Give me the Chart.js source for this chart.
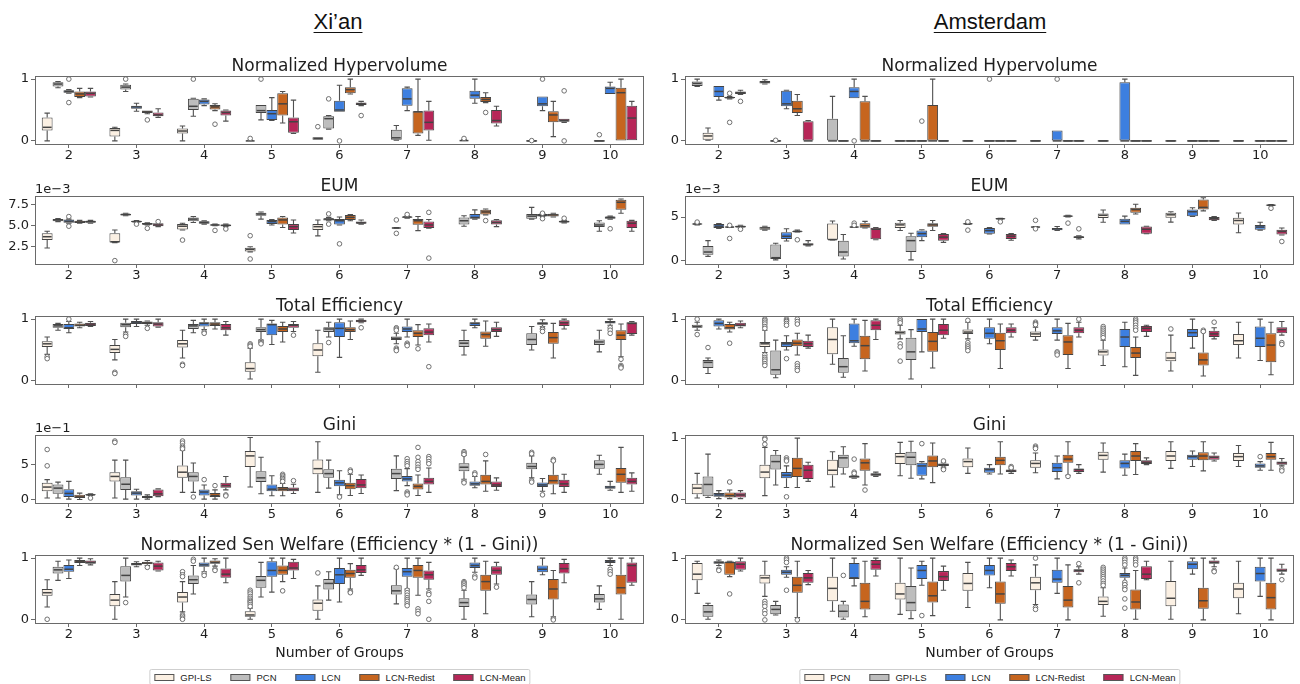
<!DOCTYPE html>
<html><head><meta charset="utf-8">
<script src="https://cdn.jsdelivr.net/npm/chart.js@4.4.1/dist/chart.umd.min.js"></script>
<style>
body{margin:0;background:#fff;width:1300px;height:684px;position:relative;overflow:hidden;font-family:"DejaVu Sans",sans-serif;}
canvas{position:absolute;}
.city{position:absolute;top:9px;font:22px "Liberation Sans",Arial,sans-serif;text-decoration:underline;text-underline-offset:3px;text-decoration-thickness:1px;color:#111;transform:translateX(-50%);white-space:nowrap;}
.legend{position:absolute;top:669px;height:14px;border:1px solid #cfcfcf;border-radius:2px;display:flex;align-items:center;gap:19px;padding:0 4px;font:9.5px "Liberation Sans",Arial,sans-serif;color:#222;transform:translateX(-50%);white-space:nowrap;background:#fff;}
.item{display:flex;align-items:center;gap:6px}
.patch{width:18px;height:5px;border:1px solid #555;}
</style></head>
<body>
<div class="city" style="left:338px">Xi’an</div>
<div class="city" style="left:990px">Amsterdam</div>
<div class="legend" id="legL" style="left:340px"></div>
<div class="legend" id="legR" style="left:990px"></div>
<script>
// ---------- categories, labels ----------
const GROUPS = ['2','3','4','5','6','7','8','9','10'];
const XIAN_METHODS = ['GPI-LS','PCN','LCN','LCN-Redist','LCN-Mean'];
const AMS_METHODS = ['PCN','GPI-LS','LCN','LCN-Redist','LCN-Mean'];
const COLORS = ['#fbf0e3','#bdbdbd','#3d7fe0','#c6651f','#b72658'];
const TITLES = ['Normalized Hypervolume','EUM','Total Efficiency','Gini','Normalized Sen Welfare (Efficiency * (1 - Gini))'];
const TICKS_UNIT = [0,1];
const TICKS_EUM_XIAN = [2.5,5.0,7.5];
const TICKLABELS_EUM_XIAN = ['2.5','5.0','7.5'];
const TICKS_EUM_AMS = [0,5];
const TICKS_GINI_XIAN = [0,5];
const X_LABEL = 'Number of Groups';
// each box: [min, q1, median, q3, max, outliers]; null = not present
// ---------- Xi'an: Normalized Hypervolume ----------
const XIAN_HV_GPILS = [[0,0.17,0.22,0.38,0.45],[0,0.07,0.17,0.21,0.22],[0,0.12,0.16,0.2,0.24],[0,0,0,0.005,0.01,[0.04]],[0.02,0.02,0.04,0.06,0.06,[0.23]],null,null,null,null];
const XIAN_HV_PCN = [[0.86,0.88,0.92,0.95,0.96],[0.8,0.83,0.87,0.91,0.92,[1.0]],[0.4,0.5,0.56,0.68,0.69,[1.0]],[0.34,0.45,0.49,0.58,0.58,[1.0]],[0.19,0.2,0.36,0.4,0.41,[0.68]],[0.01,0.02,0.05,0.18,0.25],[0,0,0.005,0.01,0.02,[0.04]],[0,0,0,0,0,[0.005]],[0,0,0,0,0,[0.1]]];
const XIAN_HV_LCN = [[0.77,0.78,0.8,0.82,0.83,[1.0,0.62]],[0.48,0.52,0.55,0.57,0.61],[0.57,0.59,0.64,0.67,0.68],[0.33,0.34,0.44,0.5,0.7],[0.47,0.47,0.5,0.65,0.9,[0]],[0.49,0.57,0.68,0.85,0.87],[0.61,0.68,0.74,0.81,1.0],[0.49,0.56,0.6,0.72,0.72,[1.0]],[0.76,0.76,0.85,0.88,0.95]];
const XIAN_HV_REDIST = [[0.7,0.71,0.76,0.8,0.85],[0.44,0.45,0.47,0.49,0.49,[0.34]],[0.49,0.51,0.55,0.58,0.6,[0.27]],[0.29,0.41,0.6,0.77,0.8],[0.76,0.77,0.83,0.87,1.0],[0.09,0.12,0.47,0.48,1.0],[0.62,0.63,0.67,0.71,0.78,[0.46]],[0.07,0.3,0.42,0.48,0.64],[0,0,0.78,0.86,1.0]];
const XIAN_HV_MEAN = [[0.71,0.72,0.77,0.8,0.85],[0.38,0.4,0.42,0.46,0.52],[0.32,0.41,0.46,0.49,0.5],[0.12,0.13,0.31,0.38,0.66],[0.57,0.58,0.6,0.62,0.64,[0.41]],[0.01,0.17,0.3,0.49,0.64],[0.24,0.28,0.33,0.5,0.56],[0.3,0.31,0.33,0.36,0.36,[0.81,0]],[0.01,0.01,0.37,0.57,0.64]];
// ---------- Amsterdam: Normalized Hypervolume ----------
const AMS_HV_PCN = [[0.88,0.89,0.93,0.96,1.0],[0.92,0.93,0.95,0.97,0.99],[0,0,0,0.36,0.72],[0,0,0,0,0],[0,0,0,0,0],[0,0,0,0,0],[0,0,0,0,0],[0,0,0,0,0],[0,0,0,0,0]];
const AMS_HV_GPILS = [[0.01,0.02,0.08,0.13,0.21],[0,0,0,0,0,[0.01]],[0,0,0,0,0],[0,0,0,0,0],null,null,null,null,null];
const AMS_HV_LCN = [[0.66,0.71,0.8,0.89,0.89],[0.52,0.56,0.6,0.81,0.82],[0.69,0.69,0.8,0.87,1.0,[0]],[0,0,0,0,0,[0.32]],[0,0,0,0,0,[1.0]],[0,0,0,0.17,0.17,[1.0]],[0,0,0,0.95,1.0],[0,0,0,0,0],[0,0,0,0,0]];
const AMS_HV_REDIST = [[0.68,0.69,0.7,0.71,0.72,[0.77,0.3]],[0.41,0.45,0.52,0.65,0.75],[0,0,0,0.64,0.72],[0,0,0,0.58,1.0],[0,0,0,0,0],[0,0,0,0,0],[0,0,0,0,0],[0,0,0,0,0],[0,0,0,0,0]];
const AMS_HV_MEAN = [[0.75,0.76,0.78,0.8,0.82,[0.64]],[0,0,0,0.32,0.33],[0,0,0,0,0],[0,0,0,0,0],[0,0,0,0,0],[0,0,0,0,0],[0,0,0,0,0],[0,0,0,0,0],[0,0,0,0,0]];
// ---------- Xi'an: EUM (x 1e-3) ----------
const XIAN_EUM_GPILS = [[2.35,3.3,3.7,4.1,4.35],[3.0,3.02,3.1,4.1,4.5,[0.85]],[4.5,4.55,4.95,5.2,5.3,[3.3]],[1.9,1.95,2.2,2.4,2.5,[3.82,1.05]],[3.8,4.5,4.9,5.2,5.7],null,null,null,null];
const XIAN_EUM_PCN = [[5.5,5.55,5.7,5.8,5.85],[6.2,6.22,6.35,6.45,6.5],[5.4,5.55,5.8,6.0,6.1],[5.8,6.2,6.4,6.55,6.65],[5.6,5.62,5.8,5.9,6.0,[6.42,5.2]],[4.7,4.72,4.74,4.76,4.78,[5.7,4.1]],[4.95,5.15,5.6,6.0,6.2],[5.8,5.85,6.15,6.4,7.2],[4.35,4.85,5.1,5.4,5.6]];
const XIAN_EUM_LCN = [[5.3,5.35,5.55,5.75,5.8,[6.1,4.95]],[5.4,5.42,5.5,5.6,5.62,[5.2]],[5.2,5.25,5.4,5.55,5.6],[5.1,5.2,5.5,5.7,5.75],[5.1,5.15,5.6,5.8,6.05,[2.85]],[5.9,5.95,6.05,6.12,6.15,[6.35]],[5.8,5.85,6.0,6.4,6.9],[6.1,6.12,6.25,6.4,6.45,[6.5,5.85]],[5.8,5.85,6.0,6.1,6.15,[4.65]]];
const XIAN_EUM_REDIST = [[5.3,5.32,5.45,5.6,5.65],[5.1,5.14,5.22,5.32,5.35,[4.7]],[5.0,5.05,5.1,5.15,5.2,[4.45]],[4.8,5.15,5.7,6.0,6.1],[5.6,5.7,6.0,6.3,6.35],[4.42,5.14,5.6,5.82,6.1],[6.3,6.35,6.65,6.9,7.0,[5.62]],[6.05,6.1,6.3,6.45,6.5],[6.5,6.9,7.8,8.1,8.2]];
const XIAN_EUM_MEAN = [[5.3,5.35,5.5,5.6,5.65],[4.9,4.95,5.1,5.3,5.3,[5.5]],[4.9,4.95,5.05,5.15,5.2,[4.62]],[4.15,4.5,4.9,5.2,5.7],[5.2,5.25,5.35,5.5,5.7],[4.7,4.75,5.1,5.5,5.75,[6.6,1.15]],[4.9,5.15,5.4,5.65,5.75],[5.35,5.4,5.5,5.6,5.65,[5.9]],[4.35,4.75,5.3,5.6,5.65]];
// ---------- Amsterdam: EUM (x 1e-3) ----------
const AMS_EUM_PCN = [[4.1,4.15,4.2,4.25,4.3,[4.42]],[3.5,3.55,3.75,3.9,3.95],[2.38,2.4,2.42,4.25,4.55],[3.45,3.75,4.1,4.35,4.6],[4.15,4.2,4.22,4.25,4.3,[4.45,3.5]],[3.8,3.82,3.85,3.88,3.9,[4.62,3.65]],[4.4,4.9,5.2,5.4,5.8],[4.42,4.92,5.25,5.5,5.6],[3.2,4.15,4.6,4.92,5.46]];
const AMS_EUM_GPILS = [[0.5,0.7,1.0,1.7,2.3],[0.1,0.2,0.35,1.85,2.0],[0.2,0.5,1.0,2.3,3.0],[0.1,1.0,2.3,2.8,3.15],null,null,null,null,null];
const AMS_EUM_LCN = [[3.7,3.75,3.95,4.2,4.25],[2.25,2.5,2.8,3.25,3.65],[3.8,3.82,3.85,3.9,3.92,[4.3,4.05]],[2.3,2.7,3.1,3.45,3.55],[3.05,3.08,3.45,3.75,3.8],[3.45,3.5,3.65,3.75,3.92],[4.15,4.15,4.5,4.8,5.1],[5.05,5.1,5.6,5.85,6.05],[3.5,3.55,3.85,4.1,4.4]];
const AMS_EUM_REDIST = [[3.8,3.82,3.85,3.9,3.95,[4.05,2.55]],[3.3,3.32,3.35,3.4,3.5,[2.4]],[3.75,3.78,4.0,4.3,4.5],[3.45,3.9,4.1,4.3,4.6],[4.75,4.78,4.8,4.82,4.85,[4.45]],[5.0,5.05,5.1,5.15,5.2,[4.3]],[5.35,5.5,5.85,6.05,6.45],[5.7,5.85,6.1,7.0,7.2],[6.3,6.32,6.35,6.4,6.42,[6.0]]];
const AMS_EUM_MEAN = [[3.75,3.8,3.9,4.0,4.05,[3.6]],[1.7,1.75,1.85,2.0,2.3],[2.4,2.45,3.6,3.77,3.8],[2.1,2.3,2.7,3.05,3.1],[2.35,2.5,2.8,3.05,3.1],[2.5,2.6,2.7,2.8,2.85,[3.65]],[3.08,3.1,3.6,3.92,3.95],[4.6,4.62,4.8,5.0,5.05],[2.95,3.0,3.35,3.55,3.75,[2.2]]];
// ---------- Xi'an: Total Efficiency ----------
const XIAN_TE_GPILS = [[0.43,0.55,0.6,0.64,0.71,[0.39,0.36]],[0.34,0.45,0.51,0.58,0.67,[0.14,0.12]],[0.37,0.54,0.6,0.66,0.82,[0.27,0.25]],[0.03,0.15,0.2,0.3,0.53,[0.6,0.58,0.56]],[0.14,0.4,0.5,0.61,0.82],null,null,null,null];
const XIAN_TE_PCN = [[0.82,0.86,0.89,0.92,0.93],[0.79,0.87,0.91,0.94,1.0,[0.75,0.72]],[0.78,0.84,0.89,0.92,0.98],[0.66,0.79,0.83,0.87,1.0,[0.64,0.62,0.6]],[0.71,0.79,0.84,0.87,0.95,[0.62]],[0.6,0.66,0.69,0.72,0.77,[0.86,0.84,0.82,0.53,0.51,0.49]],[0.42,0.55,0.61,0.66,0.82],[0.5,0.58,0.67,0.77,0.88],[0.47,0.58,0.63,0.67,0.82]];
const XIAN_TE_LCN = [[0.78,0.84,0.86,0.92,0.96,[1.0]],[0.88,0.92,0.95,0.97,1.0],[0.83,0.88,0.93,0.95,1.0,[0.79,0.77]],[0.59,0.74,0.91,0.93,0.98],[0.38,0.71,0.85,0.95,1.0],[0.71,0.79,0.84,0.88,1.0,[0.61,0.59,0.57]],[0.86,0.89,0.93,0.95,1.0],[0.88,0.91,0.93,0.95,0.99,[0.85,0.83,0.8]],[0.9,0.93,0.95,0.97,1.0,[0.86,0.82,0.77]]];
const XIAN_TE_REDIST = [[0.86,0.88,0.9,0.93,0.95],[0.9,0.92,0.94,0.96,0.97,[0.85]],[0.84,0.89,0.92,0.95,1.0],[0.63,0.79,0.84,0.89,0.95],[0.67,0.79,0.83,0.87,0.97],[0.58,0.71,0.77,0.82,0.91,[0.52]],[0.56,0.68,0.75,0.8,0.97],[0.37,0.6,0.7,0.79,0.93],[0.39,0.66,0.74,0.82,0.92,[0.35,0.25,0.23,0.21]]];
const XIAN_TE_MEAN = [[0.88,0.89,0.92,0.94,0.96],[0.87,0.88,0.92,0.95,1.0],[0.74,0.82,0.86,0.92,0.96],[0.8,0.86,0.9,0.92,0.96,[0.74]],[0.94,0.95,0.97,0.99,1.0,[0.86]],[0.63,0.74,0.79,0.85,0.92,[0.23]],[0.72,0.79,0.83,0.87,0.95],[0.84,0.89,0.94,0.98,1.0],[0.74,0.76,0.93,0.95,0.96]];
// ---------- Amsterdam: Total Efficiency ----------
const AMS_TE_PCN = [[0.82,0.86,0.88,0.91,0.95,[1.0,0.75]],[0.46,0.55,0.6,0.63,0.82,[1.0,0.98,0.95,0.92,0.88,0.85,0.42,0.38,0.35,0.32,0.28,0.25]],[0.27,0.43,0.67,0.87,1.0],[0.68,0.75,0.78,0.81,0.9,[1.0,0.97,0.94,0.6,0.55,0.32]],[0.68,0.76,0.79,0.83,0.95,[0.98,0.62,0.58,0.55,0.52,0.49]],[0.66,0.71,0.76,0.8,0.87,[0.95,0.93,0.91]],[0.25,0.41,0.47,0.51,0.66,[0.88,0.85,0.82,0.79,0.76,0.73,0.7]],[0.16,0.32,0.37,0.47,0.74,[0.84]],[0.37,0.58,0.65,0.76,0.95]];
const AMS_TE_GPILS = [[0.12,0.21,0.3,0.34,0.37,[0.54]],[0.05,0.1,0.18,0.49,0.66],[0.06,0.13,0.23,0.37,0.73],[0.03,0.34,0.47,0.7,0.83],null,null,null,null,null];
const AMS_TE_LCN = [[0.84,0.88,0.93,0.98,1.0],[0.5,0.55,0.6,0.63,0.73,[1.0,0.98,0.96,0.93,0.9,0.36]],[0.56,0.61,0.65,0.93,1.0],[0.47,0.79,0.84,1.0,1.0],[0.6,0.68,0.77,0.87,1.0],[0.66,0.76,0.81,0.87,1.0,[0.47,0.45,0.42]],[0.23,0.55,0.71,0.84,0.95],[0.53,0.71,0.78,0.84,1.0],[0.33,0.55,0.69,0.88,1.0]];
const AMS_TE_REDIST = [[0.79,0.83,0.86,0.92,0.95,[0.61]],[0.42,0.56,0.61,0.67,0.77,[1.0,0.96,0.92,0.28,0.24,0.2,0.17]],[0.16,0.35,0.57,0.73,0.98],[0.21,0.47,0.64,0.79,1.0],[0.2,0.5,0.65,0.78,0.92],[0.2,0.42,0.63,0.74,0.93],[0.09,0.37,0.45,0.55,0.71,[1.0,0.97,0.94,0.9,0.86,0.82]],[0.08,0.25,0.34,0.46,0.79,[0.82,0.8]],[0.1,0.3,0.58,0.77,0.95]];
const AMS_TE_MEAN = [[0.86,0.88,0.9,0.94,0.97],[0.53,0.55,0.6,0.65,0.74],[0.67,0.82,0.9,0.98,1.0],[0.69,0.74,0.82,0.92,1.0],[0.71,0.77,0.82,0.87,0.92],[0.71,0.77,0.82,0.87,0.95,[1.0]],[0.72,0.79,0.85,0.89,0.9],[0.68,0.71,0.76,0.81,0.86,[0.95]],[0.74,0.77,0.83,0.87,0.96,[0.62,0.59]]];
// ---------- Xi'an: Gini (x 1e-1) ----------
const XIAN_GINI_GPILS = [[0.25,1.2,1.8,2.4,2.85,[7.1,4.8]],[0.25,2.6,3.3,3.9,5.6,[8.3,8.1]],[1.05,3.1,3.9,4.85,7.0,[8.3,8.0,7.6,7.4,7.2]],[1.8,4.65,6.2,6.9,8.8],[1.05,3.6,4.4,5.7,8.2],null,null,null,null];
const XIAN_GINI_PCN = [[0.25,0.85,1.65,2.15,2.5],[0.1,1.4,2.2,3.2,5.6],[1.05,2.6,3.3,3.9,5.2,[0.4]],[0.86,2.5,3.1,4.05,6.0],[1.65,3.1,3.7,4.3,5.6],[1.3,2.95,3.7,4.4,6.2],[2.9,4.05,4.6,5.15,6.3,[6.8,6.6,6.4,2.6,2.4]],[3.1,4.3,4.7,5.25,6.2,[6.7,6.5,2.7,2.5]],[3.6,4.4,5.0,5.6,6.3]];
const XIAN_GINI_LCN = [[0.1,0.4,0.9,1.5,2.6],[0.1,0.6,0.95,1.2,1.5],[0.1,0.6,1.1,1.45,2.1,[2.85]],[0.57,1.2,1.5,2.15,3.4],[0.7,1.9,2.4,2.85,4.1,[0.4]],[2.0,2.6,2.95,3.35,4.4,[5.8,5.4,5.1,4.8,1.1,0.9,0.7]],[1.7,2.0,2.25,2.6,3.3,[3.8,3.6]],[1.2,1.8,2.1,2.45,3.0,[0.7]],[1.35,1.55,1.8,2.0,2.6]];
const XIAN_GINI_REDIST = [[0.05,0.25,0.4,0.7,0.95],[0.1,0.25,0.4,0.55,0.7],[0.1,0.4,0.6,0.95,1.4,[2.0]],[0.57,1.2,1.5,1.8,2.3,[3.6,3.4,3.2,3.0,2.8,2.6]],[0.6,1.5,2.0,2.4,3.6,[4.2,4.0]],[0.6,1.45,1.9,2.3,3.5,[7.4,6.0,5.4,5.0,4.6,4.3]],[1.2,2.15,2.6,3.55,5.5,[6.4]],[0.86,2.15,2.7,3.55,5.4,[5.7,5.5]],[1.05,2.4,3.6,4.5,7.4]];
const XIAN_GINI_MEAN = [[0.6,0.65,0.7,0.8,0.85,[0.25]],[0.45,0.5,0.85,1.45,1.55],[1.4,1.7,2.0,2.4,3.3,[0.7,0.55]],[0.9,1.2,1.45,1.75,2.2,[2.7]],[0.9,1.65,2.1,2.95,3.5],[1.05,2.15,2.6,3.1,4.5,[6.1,5.8,5.4,5.1]],[1.35,1.8,2.1,2.6,3.1],[1.05,1.8,2.25,2.85,3.6],[1.2,2.15,2.6,3.1,3.8]];
// ---------- Amsterdam: Gini ----------
const AMS_GINI_PCN = [[0.03,0.09,0.19,0.26,0.43],[0.07,0.35,0.45,0.57,0.85,[1.0,0.98,0.9]],[0.21,0.4,0.48,0.65,0.78],[0.39,0.58,0.7,0.76,0.93],[0.43,0.53,0.62,0.67,0.84],[0.44,0.52,0.59,0.64,0.76,[0.87,0.85,0.83]],[0.45,0.65,0.72,0.78,0.92],[0.51,0.63,0.71,0.79,0.94],[0.54,0.63,0.7,0.76,0.88]];
const AMS_GINI_GPILS = [[0.04,0.06,0.25,0.38,0.74],[0.24,0.49,0.62,0.73,0.8],[0.42,0.52,0.68,0.73,0.86],[0.35,0.56,0.69,0.78,0.95],null,null,null,null,null];
const AMS_GINI_LCN = [[0.02,0.05,0.08,0.11,0.15],[0.2,0.35,0.4,0.45,0.55,[0.68,0.65,0.63,0.05]],[0.35,0.36,0.38,0.39,0.4,[0.66,0.45,0.43]],[0.34,0.39,0.55,0.6,0.62,[0.91]],[0.42,0.44,0.49,0.52,0.57],[0.34,0.45,0.52,0.6,0.71],[0.4,0.51,0.59,0.64,0.74],[0.54,0.65,0.7,0.73,0.79],[0.48,0.52,0.55,0.59,0.62,[0.7]]];
const AMS_GINI_REDIST = [[0.02,0.04,0.07,0.12,0.16,[0.29]],[0.2,0.37,0.51,0.68,1.0],[0.24,0.47,0.6,0.67,0.91,[0.16]],[0.28,0.53,0.63,0.72,0.92],[0.42,0.56,0.64,0.7,0.94],[0.4,0.6,0.66,0.73,0.94,[0.38]],[0.41,0.63,0.71,0.79,0.91],[0.47,0.64,0.71,0.77,0.94],[0.48,0.65,0.7,0.76,0.93]];
const AMS_GINI_MEAN = [[0.02,0.04,0.08,0.12,0.15],[0.3,0.34,0.48,0.57,0.61],[0.38,0.39,0.41,0.43,0.45],[0.53,0.55,0.57,0.59,0.6,[0.63,0.51,0.49]],[0.43,0.45,0.47,0.49,0.5,[0.54,0.52]],[0.43,0.45,0.49,0.51,0.57],[0.57,0.58,0.61,0.64,0.68],[0.63,0.65,0.69,0.72,0.76],[0.55,0.57,0.6,0.62,0.67,[0.5,0.47]]];
// ---------- Xi'an: Normalized Sen Welfare ----------
const XIAN_SEN_GPILS = [[0.21,0.39,0.44,0.5,0.65,[0.01]],[0.01,0.22,0.32,0.42,0.62],[0.13,0.28,0.37,0.45,0.62,[0.78,0.73,0.7,0.08,0.06,0.03,0.01]],[0.01,0.05,0.08,0.14,0.19,[0.48,0.45,0.42,0.38,0.35,0.32,0.3,0.28,0.25,0.22]],[0.01,0.15,0.27,0.33,0.55,[0.76]],null,null,null,null];
const XIAN_SEN_PCN = [[0.64,0.75,0.81,0.86,0.95],[0.37,0.62,0.72,0.87,1.0,[0.28]],[0.42,0.58,0.65,0.72,0.88,[0.98,0.95]],[0.37,0.52,0.64,0.71,0.93],[0.32,0.49,0.59,0.66,0.78],[0.26,0.41,0.47,0.56,0.83,[0.85]],[0.01,0.21,0.28,0.35,0.48,[0.62,0.6,0.58,0.55,0.52]],[0.05,0.25,0.33,0.41,0.62],[0.17,0.28,0.34,0.42,0.55]];
const XIAN_SEN_LCN = [[0.67,0.78,0.82,0.89,0.97],[0.86,0.88,0.9,0.92,0.94],[0.78,0.86,0.89,0.93,1.0,[0.75,0.72]],[0.45,0.7,0.8,0.95,1.0],[0.29,0.58,0.73,0.84,1.0],[0.5,0.7,0.78,0.84,1.0,[0.48,0.44,0.4,0.36,0.33,0.3,0.26,0.23]],[0.77,0.84,0.88,0.93,1.0,[0.71,0.68]],[0.73,0.77,0.82,0.88,1.0],[0.88,0.92,0.95,0.97,1.0,[0.82,0.78,0.74]]];
const XIAN_SEN_REDIST = [[0.88,0.92,0.94,0.97,1.0],[0.88,0.9,0.92,0.94,0.96,[0.85]],[0.87,0.91,0.93,0.96,0.99,[0.82,0.8]],[0.62,0.73,0.8,0.88,1.0,[0.47]],[0.5,0.68,0.75,0.81,0.91,[0.46,0.44]],[0.4,0.68,0.8,0.89,1.0,[0.18,0.14,0.1]],[0.1,0.47,0.62,0.73,0.95],[0.05,0.33,0.5,0.66,0.8,[0.02,0.0]],[0.01,0.41,0.52,0.73,1.0]];
const XIAN_SEN_MEAN = [[0.89,0.91,0.93,0.96,0.99],[0.79,0.8,0.87,0.93,0.95],[0.6,0.68,0.74,0.83,1.0],[0.67,0.8,0.84,0.94,0.98],[0.72,0.76,0.81,0.89,1.0],[0.5,0.65,0.73,0.8,0.93,[0.44,0.41,0.3,0.01]],[0.58,0.73,0.8,0.87,0.93,[0.53]],[0.6,0.75,0.83,0.92,0.98],[0.56,0.6,0.88,0.93,1.0]];
// ---------- Amsterdam: Normalized Sen Welfare ----------
const AMS_SEN_PCN = [[0.43,0.64,0.74,0.92,0.95],[0.38,0.59,0.68,0.73,0.95,[0.3,0.26,0.22,0.15,0.1,0.0]],[0.14,0.3,0.51,0.7,1.0],[0.09,0.33,0.42,0.6,1.0],[0.2,0.47,0.59,0.76,0.93],[0.25,0.48,0.6,0.7,0.89,[1.0,0.2,0.17]],[0.06,0.24,0.3,0.38,0.52,[0.85,0.82,0.79,0.76,0.73,0.7,0.67,0.63,0.59,0.56]],[0.01,0.22,0.35,0.63,0.95],[0.1,0.35,0.5,0.6,0.95]];
const AMS_SEN_GPILS = [[0.01,0.05,0.13,0.24,0.27],[0.08,0.09,0.17,0.24,0.3],[0.01,0.04,0.14,0.25,0.3,[0.72]],[0.02,0.14,0.28,0.55,0.84],null,null,null,null,null];
const AMS_SEN_LCN = [[0.88,0.91,0.93,0.95,0.97,[0.82,0.8]],[0.69,0.73,0.77,0.81,0.86,[1.0,0.97,0.93,0.48]],[0.55,0.66,0.68,0.92,1.0],[0.56,0.66,0.8,0.89,0.95,[0.07]],[0.52,0.72,0.8,0.89,1.0],[0.43,0.6,0.66,0.81,1.0],[0.57,0.68,0.72,0.76,0.84,[1.0,0.97,0.93,0.89,0.61,0.57,0.52,0.49,0.34,0.19]],[0.74,0.82,0.9,0.95,1.0],[0.38,0.62,0.75,0.86,1.0]];
const AMS_SEN_REDIST = [[0.7,0.73,0.93,0.94,0.95,[0.42]],[0.04,0.44,0.56,0.7,0.95,[0.0]],[0.05,0.17,0.3,0.6,0.95],[0.07,0.28,0.39,0.62,1.0],[0.0,0.26,0.42,0.62,1.0],[0.0,0.2,0.32,0.55,0.89],[0.01,0.17,0.29,0.49,0.8,[1.0,0.97,0.93,0.89]],[0.0,0.18,0.31,0.52,1.0],[0.0,0.17,0.36,0.6,1.0]];
const AMS_SEN_MEAN = [[0.79,0.81,0.9,0.95,1.0],[0.57,0.6,0.68,0.76,0.8],[0.71,0.81,0.9,0.97,1.0],[0.48,0.63,0.7,0.79,0.87],[0.71,0.79,0.86,0.92,0.97],[0.74,0.77,0.8,0.82,0.86,[0.91,0.6]],[0.65,0.66,0.74,0.87,0.95],[0.86,0.91,0.93,0.96,1.0,[0.8,0.78]],[0.74,0.78,0.8,0.83,0.9,[0.65]]];

// ---------- panels ----------
const PANELS = [
  {col:0,row:0,series:[XIAN_HV_GPILS,XIAN_HV_PCN,XIAN_HV_LCN,XIAN_HV_REDIST,XIAN_HV_MEAN],min:-0.05,max:1.05,ticks:TICKS_UNIT},
  {col:1,row:0,series:[AMS_HV_PCN,AMS_HV_GPILS,AMS_HV_LCN,AMS_HV_REDIST,AMS_HV_MEAN],min:-0.05,max:1.05,ticks:TICKS_UNIT,swap:true},
  {col:0,row:1,series:[XIAN_EUM_GPILS,XIAN_EUM_PCN,XIAN_EUM_LCN,XIAN_EUM_REDIST,XIAN_EUM_MEAN],min:0.45,max:8.55,ticks:TICKS_EUM_XIAN,labels:TICKLABELS_EUM_XIAN,offset:'1e\u22123'},
  {col:1,row:1,series:[AMS_EUM_PCN,AMS_EUM_GPILS,AMS_EUM_LCN,AMS_EUM_REDIST,AMS_EUM_MEAN],min:-0.37,max:7.4,ticks:TICKS_EUM_AMS,offset:'1e\u22123'},
  {col:0,row:2,series:[XIAN_TE_GPILS,XIAN_TE_PCN,XIAN_TE_LCN,XIAN_TE_REDIST,XIAN_TE_MEAN],min:-0.05,max:1.05,ticks:TICKS_UNIT,hideX:true},
  {col:1,row:2,series:[AMS_TE_PCN,AMS_TE_GPILS,AMS_TE_LCN,AMS_TE_REDIST,AMS_TE_MEAN],min:-0.05,max:1.05,ticks:TICKS_UNIT,hideX:true},
  {col:0,row:3,series:[XIAN_GINI_GPILS,XIAN_GINI_PCN,XIAN_GINI_LCN,XIAN_GINI_REDIST,XIAN_GINI_MEAN],min:-0.45,max:9.15,ticks:TICKS_GINI_XIAN,offset:'1e\u22121'},
  {col:1,row:3,series:[AMS_GINI_PCN,AMS_GINI_GPILS,AMS_GINI_LCN,AMS_GINI_REDIST,AMS_GINI_MEAN],min:-0.05,max:1.05,ticks:TICKS_UNIT},
  {col:0,row:4,series:[XIAN_SEN_GPILS,XIAN_SEN_PCN,XIAN_SEN_LCN,XIAN_SEN_REDIST,XIAN_SEN_MEAN],min:-0.05,max:1.05,ticks:TICKS_UNIT,xlabel:true},
  {col:1,row:4,series:[AMS_SEN_PCN,AMS_SEN_GPILS,AMS_SEN_LCN,AMS_SEN_REDIST,AMS_SEN_MEAN],min:-0.05,max:1.05,ticks:TICKS_UNIT,xlabel:true}
];

const EDGE='#444444', WHISK='#505050', FRAME='#6a6a6a', TXT='#1e1e1e', OUTL='#6f6f6f';
const TOP_PAD=34, AREA_H=68;

const boxPlugin = {
  id:'boxdraw',
  afterDatasetsDraw(chart){
    const ctx=chart.ctx, ys=chart.scales.y;
    const P=(v)=>ys.getPixelForValue(v);
    chart.data.datasets.forEach((ds,di)=>{
      const meta=chart.getDatasetMeta(di);
      ds.boxes.forEach((b,i)=>{
        if(!b) return;
        const el=meta.data[i]; if(!el) return;
        const x=el.x, w=el.width;
        const [mn,q1,md,q3,mx]=b; const out=b[5]||[];
        ctx.save();
        ctx.strokeStyle=WHISK; ctx.lineWidth=1.1;
        ctx.beginPath();
        if(mx>q3){ctx.moveTo(x,P(q3));ctx.lineTo(x,P(mx));ctx.moveTo(x-w*0.25,P(mx));ctx.lineTo(x+w*0.25,P(mx));}
        if(mn<q1){ctx.moveTo(x,P(q1));ctx.lineTo(x,P(mn));ctx.moveTo(x-w*0.25,P(mn));ctx.lineTo(x+w*0.25,P(mn));}
        ctx.stroke();
        if(q3-q1<1e-9){ // flat box
          ctx.strokeStyle=EDGE; ctx.lineWidth=1.4;
          ctx.beginPath();ctx.moveTo(x-w/2,P(q1));ctx.lineTo(x+w/2,P(q1));ctx.stroke();
        }
        ctx.strokeStyle=EDGE; ctx.lineWidth=1.5;
        ctx.beginPath();ctx.moveTo(x-w/2+1,P(md));ctx.lineTo(x+w/2-1,P(md));ctx.stroke();
        ctx.strokeStyle=OUTL; ctx.lineWidth=1;
        out.forEach(v=>{ctx.beginPath();ctx.arc(x,P(v),2.3,0,Math.PI*2);ctx.fillStyle='#fff';ctx.fill();ctx.stroke();});
        ctx.restore();
      });
    });
  },
  afterDraw(chart,args,opts){
    const ctx=chart.ctx, a=chart.chartArea;
    ctx.save();
    ctx.strokeStyle=FRAME; ctx.lineWidth=1;
    ctx.strokeRect(Math.round(a.left)+0.5,Math.round(a.top)+0.5,Math.round(a.right-a.left)-1,Math.round(a.bottom-a.top));
    ctx.fillStyle=TXT;
    ctx.textAlign='center'; ctx.textBaseline='alphabetic';
    ctx.font='17px "DejaVu Sans"';
    ctx.fillText(opts.title,(a.left+a.right)/2,a.top-5);
    if(opts.offset){ctx.textAlign='left';ctx.font='13px "DejaVu Sans"';ctx.fillText(opts.offset,a.left,a.top-3);}
    if(opts.xlabel){ctx.textAlign='center';ctx.font='14px "DejaVu Sans"';ctx.fillText(X_LABEL,(a.left+a.right)/2,a.bottom+34);}
    ctx.restore();
  }
};

PANELS.forEach(p=>{
  const top=Math.round(76+119.75*p.row);
  const bottomH = p.xlabel?42:24;
  const cv=document.createElement('canvas');
  cv.width=650; cv.height=TOP_PAD+AREA_H+bottomH;
  cv.style.left=(p.col*650)+'px'; cv.style.top=(top-TOP_PAD)+'px';
  document.body.appendChild(cv);
  const colors = p.swap?[COLORS[1],COLORS[0],COLORS[2],COLORS[3],COLORS[4]]:COLORS;
  const methods = p.col===0?XIAN_METHODS:AMS_METHODS;
  const datasets = p.series.map((s,k)=>({
    label:methods[k],
    boxes:s,
    data:s.map(b=>b?[b[1],b[3]]:null),
    backgroundColor:colors[k],
    borderColor:EDGE,
    borderWidth:1,
    borderSkipped:false,
    categoryPercentage:0.8,
    barPercentage:1.0
  }));
  new Chart(cv,{
    type:'bar',
    data:{labels:GROUPS,datasets},
    options:{
      responsive:false,animation:false,devicePixelRatio:1,
      layout:{padding:{top:TOP_PAD,right:6,left:0,bottom:0}},
      plugins:{legend:{display:false},tooltip:{enabled:false},
        boxdraw:{title:TITLES[p.row],offset:p.offset||null,xlabel:!!p.xlabel}},
      scales:{
        x:{type:'category',offset:true,
          grid:{display:true,drawOnChartArea:false,drawTicks:true,tickLength:4,color:FRAME,offset:false},
          border:{display:false},
          ticks:{display:!p.hideX,color:TXT,font:{family:'DejaVu Sans',size:13},padding:0,maxRotation:0,autoSkip:false},
          afterFit:s=>{s.height=bottomH;}},
        y:{min:p.min,max:p.max,
          grid:{display:true,drawOnChartArea:false,drawTicks:true,tickLength:4,color:FRAME},
          border:{display:false},
          afterBuildTicks:s=>{s.ticks=p.ticks.map(v=>({value:v}));},
          ticks:{color:TXT,font:{family:'DejaVu Sans',size:13},padding:2,
            callback:(v,i)=>p.labels?p.labels[i]:String(v)},
          afterFit:s=>{s.width=35;}}
      }
    },
    plugins:[boxPlugin]
  });
});

// ---------- legends ----------
function buildLegend(id,names){
  const el=document.getElementById(id);
  names.forEach((n,k)=>{
    const it=document.createElement('div');it.className='item';
    const pt=document.createElement('div');pt.className='patch';pt.style.background=COLORS[k];
    const tx=document.createElement('span');tx.textContent=n;
    it.appendChild(pt);it.appendChild(tx);el.appendChild(it);
  });
}
buildLegend('legL',XIAN_METHODS);
buildLegend('legR',AMS_METHODS);
</script>
</body></html>
